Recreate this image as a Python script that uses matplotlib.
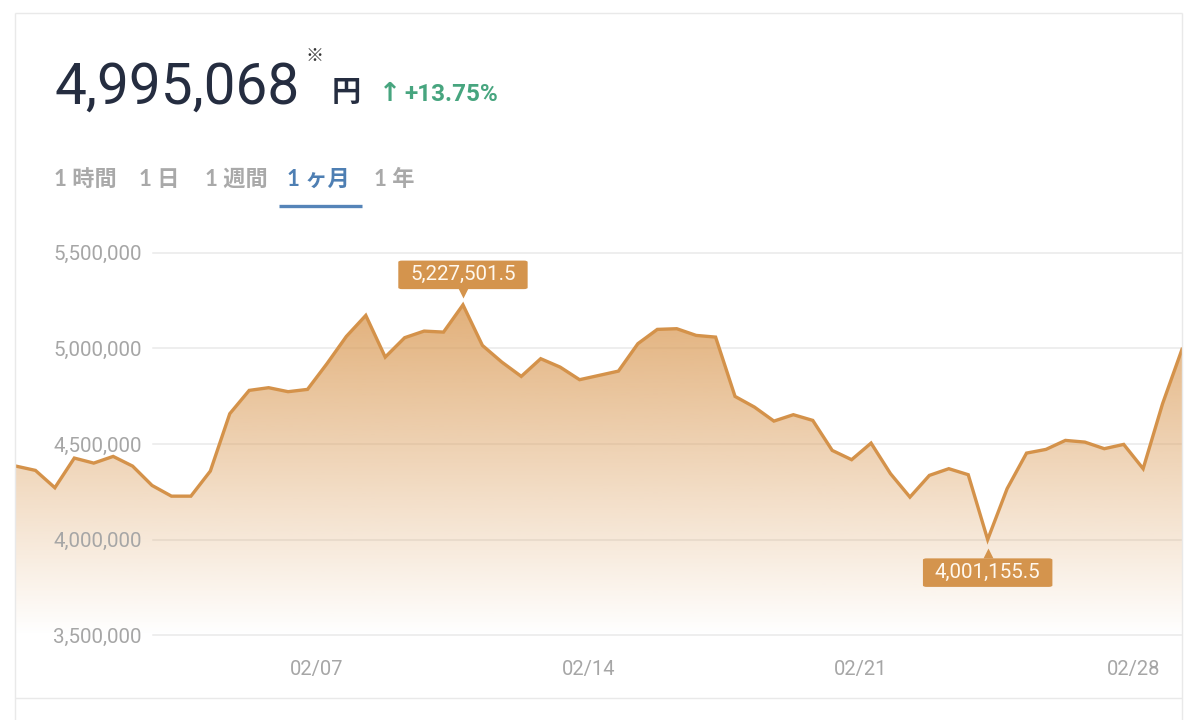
import numpy as np
import matplotlib
matplotlib.use("Agg")
import matplotlib.pyplot as plt
import matplotlib.transforms as mtransforms
from matplotlib.lines import Line2D

# ---------------- data ----------------
START_DAY = -0.744          # day-of-February of the first sample
STEP_DAYS = 0.5             # one sample every 12 hours
prices = [4385000, 4362600, 4272000, 4427000, 4400700, 4435700, 4385000, 4284000,
          4228000, 4228000, 4359000, 4658800, 4780600, 4794700, 4773800, 4785800,
          4920000, 5062700, 5172400, 4954500, 5055900, 5090400, 5085200, 5227501.5,
          5015700, 4928400, 4853700, 4946200, 4902300, 4836500, 4858900, 4881400,
          5024600, 5099300, 5102900, 5067900, 5059000, 4749200, 4693300, 4620200,
          4653600, 4623800, 4467100, 4418500, 4505200, 4345400, 4223100, 4336500,
          4371500, 4340100, 4001155.5, 4267000, 4453000, 4472300, 4519300, 4510500,
          4476000, 4498400, 4371500, 4711100, 4995068]
y_ticks = [3500000, 4000000, 4500000, 5000000, 5500000]
x_ticks = [7, 14, 21, 28]
x_tick_labels = ["02/07", "02/14", "02/21", "02/28"]
price_text = "4,995,068"
unit_text = "円"
note_mark = "※"
arrow_text = "↑"
change_text = "+13.75%"
tabs = ["1 時間", "1 日", "1 週間", "1 ヶ月", "1 年"]
active_tab = 3

# ---------------- style ----------------
W, H = 1200, 720
DPI = 100
plt.rcParams["font.family"] = ["Roboto", "Noto Sans CJK JP", "DejaVu Sans"]
LINE_C = "#d4924a"
FILL_RGB = (219 / 255, 157 / 255, 90 / 255)
BOX_C = "#d4944d"
GRID_C = "#e9e9e9"
TICK_C = "#a6a6a6"
BORDER_C = "#e9e9e9"
DARK = "#252d40"
GREEN = "#47a57f"
TAB_GRAY = "#a9a9a9"
TAB_BLUE = "#4e7fb3"

days = START_DAY + STEP_DAYS * np.arange(len(prices))
prices = np.array(prices, dtype=float)

fig = plt.figure(figsize=(W / DPI, H / DPI), dpi=DPI)
fig.patch.set_facecolor("white")

def fx(px):
    return px / W

def fy(py):
    return 1 - py / H

# card borders
def fig_line(xs, ys, color=BORDER_C, lw=1.0):
    fig.add_artist(Line2D([fx(x) for x in xs], [fy(y) for y in ys],
                          transform=fig.transFigure, color=color, lw=lw,
                          solid_capstyle="butt"))

fig_line([15, 1182], [13, 13])
fig_line([15, 15], [13, 720])
fig_line([1182, 1182], [13, 720])
fig_line([15, 1182], [698, 698])

# ---------------- axes ----------------
ax_left, ax_right, ax_top, ax_bottom = 16, 1182, 240, 635.5
ax = fig.add_axes([fx(ax_left), fy(ax_bottom), (ax_right - ax_left) / W,
                   (ax_bottom - ax_top) / H])
ax.set_facecolor("none")
for s in ax.spines.values():
    s.set_visible(False)

px_per_unit = 95.7 / 500000
ylo = y_ticks[0]
yhi = ylo + (ax_bottom - ax_top) / px_per_unit
x0, x1 = days[0], days[-1]

# gradient fill under the line
n = 400
lev = np.linspace(ylo, yhi, n)
frac = np.clip((lev - ylo) / (5250000 - ylo), 0, 1.15)
img = np.zeros((n, 1, 4))
img[..., 0], img[..., 1], img[..., 2] = FILL_RGB
img[..., 3] = (0.82 * frac)[:, None]
im = ax.imshow(img, extent=[x0, x1, ylo, yhi], origin="lower", aspect="auto",
               zorder=1, interpolation="bilinear")
poly = ax.fill_between(days, prices, ylo, color="none", lw=0)
im.set_clip_path(poly.get_paths()[0], transform=ax.transData)

# grid lines (start right of the labels)
grid_start = (153 - ax_left) / (ax_right - ax_left)
for v in y_ticks:
    ax.axhline(v, xmin=grid_start, xmax=1, color=GRID_C, lw=1.1, zorder=0.5)

ax.plot(days, prices, color=LINE_C, lw=2.4, zorder=3, solid_joinstyle="miter")

ax.set_xlim(x0, x1)
ax.set_ylim(ylo, yhi)

ax.set_yticks(y_ticks, [f"{v:,}" for v in y_ticks])
ax.tick_params(axis="y", length=0, pad=-(142 - ax_left) * 0.72,
               labelcolor=TICK_C, labelsize=14.8)
ax.set_xticks(x_ticks, x_tick_labels)
ax.tick_params(axis="x", length=0, pad=18, labelcolor=TICK_C, labelsize=14.5)

# high / low annotations
i_hi = int(np.argmax(prices))
i_lo = int(np.argmin(prices))
for idx, up in ((i_hi, True), (i_lo, False)):
    xv, yv = days[idx], prices[idx]
    sign = 1 if up else -1
    tri = mtransforms.offset_copy(ax.transData, fig=fig, x=0,
                                  y=sign * (12 if up else 13), units="dots")
    ax.plot([xv], [yv], marker="v" if up else "^", ms=7.5, color=BOX_C,
            mec="none", transform=tri, zorder=5, clip_on=False)
    ax.annotate(f"{yv:,.1f}", xy=(xv, yv),
                xytext=(0, sign * (21.6 if up else 23.8)),
                textcoords="offset points", ha="center", va="center",
                fontsize=14.8, color="#fff8ee", zorder=6,
                bbox=dict(boxstyle="round,pad=0.58,rounding_size=0.18",
                          fc=BOX_C, ec="none", mutation_aspect=0.4))

# ---------------- header ----------------
fig.text(fx(54), fy(104), price_text, fontsize=40.8, color=DARK,
         family=["Roboto"], va="baseline", ha="left")
fig.text(fx(315), fy(56), note_mark, fontsize=13, color="#333333",
         family=["Noto Sans CJK JP"], va="center", ha="center")
fig.text(fx(346), fy(101), unit_text, fontsize=21, color=DARK,
         family=["Noto Sans CJK JP"], fontweight="bold", va="baseline",
         ha="center")
fig.text(fx(390), fy(101), arrow_text, fontsize=19, color=GREEN,
         family=["DejaVu Sans"], fontweight="bold",
         va="baseline", ha="center")
fig.text(fx(404), fy(101), change_text, fontsize=17.5, color=GREEN,
         family=["Roboto"], fontweight="bold", va="baseline", ha="left")

tab_x = [54, 139, 205, 287, 374]
for i, (t, x) in enumerate(zip(tabs, tab_x)):
    fig.text(fx(x), fy(186), t, fontsize=16, fontweight="bold",
             color=TAB_BLUE if i == active_tab else TAB_GRAY,
             family=["Lato", "Noto Sans CJK JP"], va="baseline", ha="left")
fig_line([278.6, 362.4], [205.5, 205.5], color="#5584b8", lw=2.4)

fig.savefig("out.png", dpi=DPI, facecolor="white")
